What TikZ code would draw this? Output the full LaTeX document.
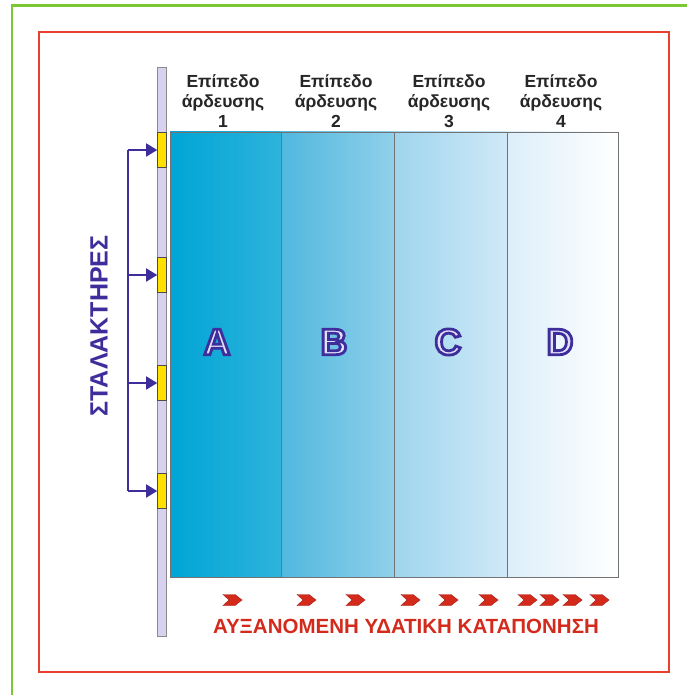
\documentclass[tikz,border=0pt]{standalone}
\usepackage{fontspec}
\setmainfont{Liberation Sans}
\usetikzlibrary{arrows.meta}
\definecolor{grn}{HTML}{7CC832}
\definecolor{redb}{HTML}{E8402C}
\definecolor{rail}{HTML}{D8D2F0}
\definecolor{railb}{HTML}{8A8A8A}
\definecolor{emit}{HTML}{FFE000}
\definecolor{pur}{HTML}{3D2E9C}
\definecolor{lav}{HTML}{E4E0FA}
\definecolor{chev}{HTML}{D42A1C}
\definecolor{cA1}{HTML}{00A5D6}\definecolor{cA2}{HTML}{2EB3DB}
\definecolor{cB1}{HTML}{50B8DF}\definecolor{cB2}{HTML}{90D0EA}
\definecolor{cC1}{HTML}{9FD5EE}\definecolor{cC2}{HTML}{CFE9F7}
\definecolor{cD1}{HTML}{DCEEFA}\definecolor{cD2}{HTML}{FFFFFF}
\newcommand{\outltext}[1]{\special{pdf:bcolor [0.89 0.88 0.98] [0.24 0.18 0.61]}\special{pdf:literal 2 Tr 2.8 w}#1\special{pdf:literal 0 Tr}\special{pdf:ecolor}}
\tikzset{
  colbox/.style={draw=gray!90!black, line width=0.8pt},
  emitter/.style={draw=black!70, fill=emit, line width=0.6pt, minimum width=9pt, minimum height=35pt, inner sep=0pt},
  hdr/.style={align=center, font=\bfseries\fontsize{17.5}{20}\selectfont, text=black!85},
  letter/.style={font=\bfseries\fontsize{37}{37}\selectfont},
  feed/.style={draw=pur, line width=1.6pt, -{Triangle[length=11pt,width=13pt]}},
  chevron/.style={fill=chev, draw=chev!75!black, line width=0.4pt}
}
\newcommand{\chevat}[2]{\filldraw[chevron] (#1-9,#2-5.5) -- (#1+3,#2-5.5) -- (#1+10,#2) -- (#1+3,#2+5.5) -- (#1-9,#2+5.5) -- (#1-3,#2) -- cycle;}
\begin{document}
\begin{tikzpicture}[x=1pt,y=-1pt]
\useasboundingbox (0,0) rectangle (686,695);
\fill[white] (0,0) rectangle (686,695);
% borders
\draw[grn, line width=2.5pt] (12,700) -- (12,5.5) -- (690,5.5);
\draw[redb, line width=2pt] (39,32) rectangle (669,672);
% columns
\shade[left color=cA1, right color=cA2] (170,132) rectangle (281,577);
\shade[left color=cB1, right color=cB2] (281,132) rectangle (394,577);
\shade[left color=cC1, right color=cC2] (394,132) rectangle (507,577);
\shade[left color=cD1, right color=cD2] (507,132) rectangle (618,577);
\draw[colbox] (170,132) rectangle (618,577);
\draw[colbox] (281,132) -- (281,577) (394,132) -- (394,577) (507,132) -- (507,577);
% rail
\draw[railb, fill=rail, line width=1pt] (157.5,68) rectangle (166.5,636);
\node[emitter] (e1) at (162,150) {};
\node[emitter] (e2) at (162,275) {};
\node[emitter] (e3) at (162,383) {};
\node[emitter] (e4) at (162,491) {};
% feed bracket
\coordinate (t1) at (128,150);
\coordinate (t4) at (128,491);
\draw[pur, line width=1.6pt] (t1) -- (t4);
\draw[feed] (t1) -- (e1.west);
\draw[feed] (128,275) -- (e2.west);
\draw[feed] (128,383) -- (e3.west);
\draw[feed] (t4) -- (e4.west);
\node[rotate=90, text=pur, font=\bfseries\fontsize{25}{25}\selectfont] (lab) at (99,326) {ΣΤΑΛΑΚΤΗΡΕΣ};
% headers
\node[hdr] (h1) at (223,101) {Επίπεδο\\άρδευσης\\1};
\node[hdr] (h2) at (336,101) {Επίπεδο\\άρδευσης\\2};
\node[hdr] (h3) at (449,101) {Επίπεδο\\άρδευσης\\3};
\node[hdr] (h4) at (561,101) {Επίπεδο\\άρδευσης\\4};
% letters
\node[letter] (A) at (217,342) {\outltext{A}};
\node[letter] (B) at (334,342) {\outltext{B}};
\node[letter] (C) at (448,342) {\outltext{C}};
\node[letter] (D) at (560,342) {\outltext{D}};
% chevrons
\foreach \cx in {232,306,355,410,448,488,527,549,572,599} {\chevat{\cx}{600}}
\node[text=chev, font=\bfseries\fontsize{20.5}{20.5}\selectfont] (stress) at (406,626) {ΑΥΞΑΝΟΜΕΝΗ ΥΔΑΤΙΚΗ ΚΑΤΑΠΟΝΗΣΗ};
\end{tikzpicture}
\end{document}
